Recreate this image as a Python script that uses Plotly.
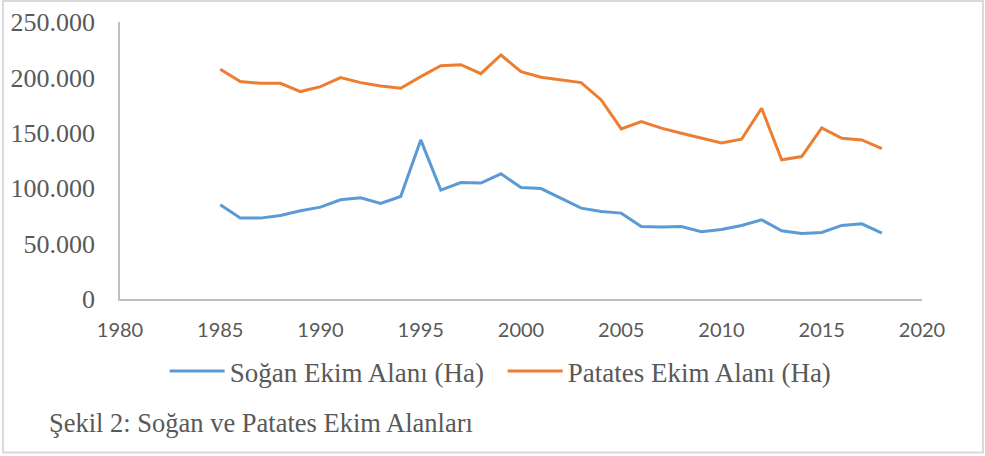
import plotly.graph_objects as go

years = list(range(1985, 2019))
sogan = [85000, 73000, 73000, 75400, 79600, 82900, 89500, 91300, 86200, 92500,
         143600, 98300, 105100, 104600, 113000, 100600, 99700, 90700, 82000, 79000,
         77500, 65500, 64900, 65500, 60700, 62700, 66400, 71500, 61600, 59200,
         60000, 66400, 67900, 59500]
patates = [207300, 196200, 194700, 194700, 187200, 191700, 199800, 195300, 192300, 190200,
           200700, 210600, 211500, 203400, 220200, 205200, 200100, 198000, 195300, 179700,
           153500, 160100, 154200, 149600, 145100, 140900, 144200, 172200, 125600, 128600,
           154400, 145100, 143600, 135800]
x_ticks = [1980, 1985, 1990, 1995, 2000, 2005, 2010, 2015, 2020]
y_ticks = [0, 50000, 100000, 150000, 200000, 250000]
y_tick_text = ["0", "50.000", "100.000", "150.000", "200.000", "250.000"]

serif = "Liberation Serif, Times New Roman, serif"

fig = go.Figure()
fig.add_trace(go.Scatter(x=years, y=sogan, mode="lines", name="Soğan Ekim Alanı (Ha)",
                         line=dict(color="#5b9bd5", width=3)))
fig.add_trace(go.Scatter(x=years, y=patates, mode="lines", name="Patates Ekim Alanı (Ha)",
                         line=dict(color="#ed7d31", width=3)))

fig.update_layout(
    width=985, height=456,
    margin=dict(l=120, r=63, t=22, b=157, autoexpand=False),
    paper_bgcolor="white", plot_bgcolor="white",
    showlegend=True,
    legend=dict(orientation="h", x=0.0557, y=-0.262, xanchor="left", yanchor="middle",
                font=dict(family=serif, size=27, color="#595959"),
                itemwidth=55, entrywidth=268, entrywidthmode="pixels",
                tracegroupgap=0, bgcolor="rgba(0,0,0,0)"),
    xaxis=dict(range=[1980, 2020], tickvals=x_ticks, showgrid=False, zeroline=False,
               showline=True, linecolor="#bfbfbf", linewidth=1.5, ticks="", automargin=False,
               tickfont=dict(family="Lato, Open Sans, sans-serif", size=20, color="#595959"),
               ticklabelstandoff=12, fixedrange=True),
    yaxis=dict(range=[0, 250000], tickvals=y_ticks, ticktext=y_tick_text, showgrid=False,
               zeroline=False, showline=True, linecolor="#bfbfbf", linewidth=1.5, ticks="",
               automargin=False,
               tickfont=dict(family=serif, size=26, color="#595959"),
               ticklabelstandoff=18, fixedrange=True),
    annotations=[dict(text="Şekil 2: Soğan ve Patates Ekim Alanları", xref="paper", yref="paper",
                      x=-0.091, y=-0.446, xanchor="left", yanchor="middle", showarrow=False,
                      font=dict(family=serif, size=26.5, color="#595959"))],
    shapes=[dict(type="rect", xref="paper", yref="paper", x0=-0.146, x1=1.076, y0=-0.554, y1=1.076,
                 line=dict(color="#d9d9d9", width=2), fillcolor="rgba(0,0,0,0)", layer="below")],
)

fig.write_html("out.html", config={"displayModeBar": False},
               post_script="document.body.style.margin='0';")
